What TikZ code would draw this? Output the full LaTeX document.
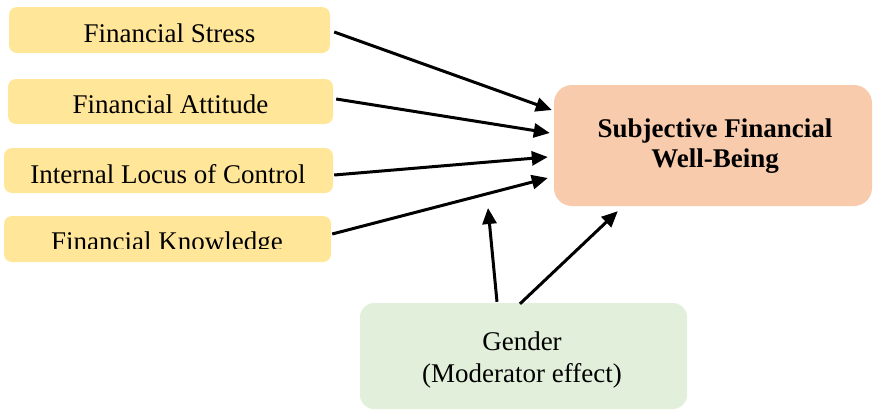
\documentclass[tikz,border=0pt]{standalone}
\usepackage{fontspec}
\setmainfont{Liberation Serif}
\usetikzlibrary{arrows.meta,calc}
\definecolor{ybox}{HTML}{FFE699}
\definecolor{obox}{HTML}{F8CBAD}
\definecolor{gbox}{HTML}{E2EFDA}
\begin{document}
\begin{tikzpicture}[x=1pt,y=-1pt,
  inbox/.style={fill=ybox, draw=none, rounded corners=8pt, inner sep=0pt},
  lbl/.style={anchor=base, inner sep=0pt, font=\fontsize{27}{30}\selectfont},
  conn/.style={line width=3pt, -{Triangle[length=16pt,width=14pt]}}]
\useasboundingbox (0,0) rectangle (873,410);
% input boxes
\node[inbox, minimum width=321pt, minimum height=46pt] (s1) at (169.5,30) {};
\node[inbox, minimum width=325pt, minimum height=45pt] (s2) at (170.5,101.5) {};
\node[inbox, minimum width=329pt, minimum height=45pt] (s3) at (168.5,170.5) {};
\node[inbox, minimum width=327pt, minimum height=46pt] (s4) at (167.5,239) {};
\node[lbl] (l1) at (169.5,42) {Financial Stress};
\node[lbl] (l2) at (170.5,113) {Financial Attitude};
\node[lbl] (l3) at (168,183) {Internal Locus of Control};
\begin{scope}
  \clip (0,0) rectangle (873,248.5);
  \node[lbl] (l4) at (167,250.5) {Financial Knowledge};
\end{scope}
% target
\node[fill=obox, rounded corners=18pt, minimum width=318pt, minimum height=121pt, inner sep=0pt] (t) at (713,145.5) {};
\node[lbl, font=\fontsize{27}{30}\selectfont\bfseries] (lt1) at (715,137) {Subjective Financial};
\node[lbl, font=\fontsize{27}{30}\selectfont\bfseries] (lt2) at (715,167) {Well-Being};
% moderator
\node[fill=gbox, rounded corners=14pt, minimum width=327pt, minimum height=106pt, inner sep=0pt] (g) at (523.5,356) {};
\node[lbl] (lg1) at (522,350) {Gender};
\node[lbl] (lg2) at (522,382) {(Moderator effect)};
\coordinate (m1) at (488,208);
% connectors
\draw[conn] ($(s1.east)+(4,2)$) -- ($(t.west)+(-2,-35.5)$);
\draw[conn] ($(s2.east)+(3,-2.5)$) -- ($(t.west)+(-4,-12.5)$);
\draw[conn] ($(s3.east)+(1,4.5)$) -- ($(t.west)+(-6,11.5)$);
\draw[conn] ($(s4.east)+(1,-5)$) -- ($(t.west)+(-6,32.5)$);
\draw[conn] ($(g.north)+(-26.5,-1)$) -- (m1);
\draw[conn] ($(g.north)+(-3.5,1)$) -- ($(t.south west)+(64,5)$);
\end{tikzpicture}
\end{document}
